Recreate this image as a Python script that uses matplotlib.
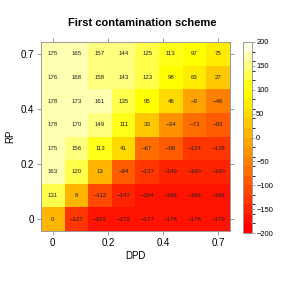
import colorsys

import matplotlib
matplotlib.use("Agg")
import matplotlib.pyplot as plt
import numpy as np
from matplotlib.colors import BoundaryNorm, ListedColormap

plt.rcParams["font.family"] = ["Liberation Sans", "DejaVu Sans"]

# chart values (rows = RP from 0 up to 0.7, columns = DPD from 0 to 0.7)
dpd_labels = ["0", "0.2", "0.4", "0.7"]
rp_labels = ["0", "0.2", "0.4", "0.7"]
rp_0 = [0, -127, -163, -172, -177, -178, -178, -179]
rp_1 = [131, 8, -112, -147, -164, -166, -168, -169]
rp_2 = [163, 120, 13, -84, -137, -149, -160, -160]
rp_3 = [175, 156, 113, 41, -67, -98, -124, -128]
rp_4 = [178, 170, 149, 111, 33, -34, -73, -93]
rp_5 = [178, 173, 161, 135, 95, 46, -9, -46]
rp_6 = [176, 168, 158, 143, 123, 98, 63, 27]
rp_7 = [175, 165, 157, 144, 125, 113, 97, 75]
levels = list(range(-200, 201, 20))
cbar_ticks = list(range(-200, 201, 50))


def heat_colors(n):
    # same recipe as R's heat.colors()
    j = n // 4
    i = n - j
    cols = [colorsys.hsv_to_rgb(h, 1, 1) for h in np.linspace(0, 1 / 6, i)]
    if j > 0:
        cols += [colorsys.hsv_to_rgb(1 / 6, s, 1)
                 for s in np.linspace(1 - 1 / (2 * j), 1 / (2 * j), j)]
    return cols


Z = np.array([rp_0, rp_1, rp_2, rp_3, rp_4, rp_5, rp_6, rp_7])
cmap = ListedColormap(heat_colors(len(levels) - 1))
norm = BoundaryNorm(levels, cmap.N)

fig = plt.figure(figsize=(2.84, 2.84), dpi=100)
ax = fig.add_axes([41 / 284, 1 - 231 / 284, 189 / 284, 189 / 284])
cax = fig.add_axes([243 / 284, 1 - 233 / 284, 9 / 284, 191 / 284])

im = ax.imshow(Z, origin="lower", cmap=cmap, norm=norm, aspect="auto")
for r in range(Z.shape[0]):
    for c in range(Z.shape[1]):
        ax.text(c, r, f"{Z[r, c]}".replace("-", "\u2212"),
                ha="center", va="center", fontsize=4.4, color="#222222")

tick_pos = np.linspace(0, Z.shape[1] - 1, 4)
ax.set_xticks(tick_pos, dpd_labels)
ax.set_yticks(tick_pos, rp_labels)
ax.tick_params(direction="out", length=3, width=0.6, color="#888888",
               labelsize=7, pad=2, top=True, right=True)
for s in ax.spines.values():
    s.set_color("#999999")
    s.set_linewidth(0.7)
ax.set_xlabel("DPD", fontsize=7, labelpad=2)
ax.set_ylabel("RP", fontsize=7, labelpad=4)
fig.text(0.5, 1 - 22.5 / 284, "First contamination scheme",
         ha="center", va="center", fontsize=8, fontweight="bold")

cb = fig.colorbar(im, cax=cax, ticks=cbar_ticks)
cb.ax.set_yticklabels([f"{t}".replace("-", "\u2212") for t in cbar_ticks])
cb.ax.tick_params(direction="out", length=2, width=0.5, color="#888888",
                  labelsize=5.4, pad=1)
cb.outline.set_edgecolor("#999999")
cb.outline.set_linewidth(0.7)

fig.savefig("out.png", dpi=100)
